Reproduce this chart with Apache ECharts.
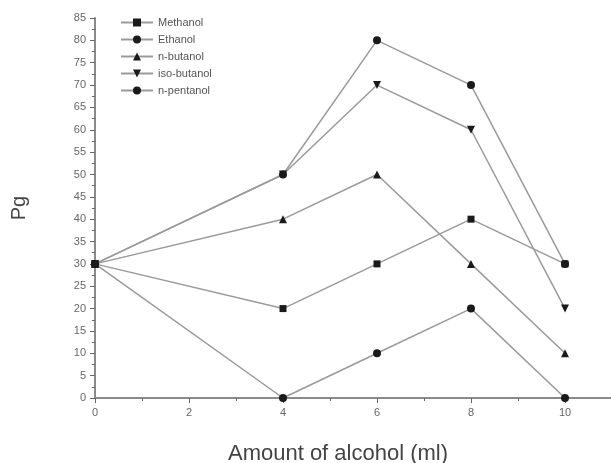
<!DOCTYPE html>
<html>
<head>
<meta charset="utf-8">
<script src="https://cdn.jsdelivr.net/npm/echarts@6/dist/echarts.min.js"></script>
<style>
  html, body { margin: 0; padding: 0; background: #fff; }
  #chart { width: 611px; height: 463px; }
</style>
</head>
<body>
<div id="chart"></div>
<script>
// Alcohol volume (ml) on the x axis
const amounts = [0, 4, 6, 8, 10];

// Pg values for each alcohol
const methanol   = [30, 20, 30, 40, 30];
const ethanol    = [30, 0, 10, 20, 0];
const nButanol   = [30, 40, 50, 30, 10];
const isoButanol = [30, 50, 70, 60, 20];
const nPentanol  = [30, 50, 80, 70, 30];

const seriesNames = ['Methanol', 'Ethanol', 'n-butanol', 'iso-butanol', 'n-pentanol'];
const seriesValues = [methanol, ethanol, nButanol, isoButanol, nPentanol];
const seriesSymbols = ['rect', 'circle', 'triangle', 'path://M0,0 L10,0 L5,9 Z', 'circle'];
const seriesSizes = [7, 8, 8, 8, 8];

const font = 'Liberation Sans, Arial, sans-serif';

const chart = echarts.init(document.getElementById('chart'));

const series = seriesNames.map((name, i) => ({
  name,
  type: 'line',
  data: amounts.map((x, j) => [x, seriesValues[i][j]]),
  symbol: seriesSymbols[i],
  symbolSize: seriesSizes[i],
  lineStyle: { color: '#9a9a9a', width: 1.5 },
  itemStyle: { color: '#1a1a1a' },
  emphasis: { disabled: true },
  z: 3
}));

chart.setOption({
  animation: false,
  backgroundColor: '#fff',
  grid: { left: 95, width: 517, top: 18, height: 380, outerBoundsMode: 'none', containLabel: false },
  legend: {
    orient: 'vertical',
    left: 115,
    top: 12,
    itemGap: 6,
    itemWidth: 32,
    itemHeight: 10,
    textStyle: { fontFamily: font, fontSize: 11, color: '#555' },
    data: seriesNames
  },
  xAxis: {
    type: 'value',
    min: 0,
    max: 11,
    interval: 2,
    name: 'Amount of alcohol (ml)',
    nameLocation: 'middle',
    nameGap: 45,
    nameTextStyle: { fontFamily: font, fontSize: 22, color: '#444', padding: [0, 31, 0, 0] },
    axisLine: { onZero: false, lineStyle: { color: '#8a8a8a', width: 2 } },
    axisTick: { length: 5, lineStyle: { color: '#666' } },
    minorTick: { show: true, splitNumber: 2, length: 3, lineStyle: { color: '#666' } },
    axisLabel: {
      fontFamily: font, fontSize: 11, color: '#666', margin: 9,
      formatter: v => (v <= 10 ? String(v) : '')
    },
    splitLine: { show: false }
  },
  yAxis: {
    type: 'value',
    min: 0,
    max: 85,
    interval: 5,
    name: 'Pg',
    nameLocation: 'middle',
    nameGap: 66,
    nameTextStyle: { fontFamily: font, fontSize: 20, color: '#444' },
    axisLine: { show: true, lineStyle: { color: '#8a8a8a', width: 2 } },
    axisTick: { show: true, length: 5, lineStyle: { color: '#666' } },
    minorTick: { show: true, splitNumber: 2, length: 3, lineStyle: { color: '#666' } },
    axisLabel: { fontFamily: font, fontSize: 11, color: '#666', margin: 9 },
    splitLine: { show: false }
  },
  series
});
</script>
</body>
</html>
